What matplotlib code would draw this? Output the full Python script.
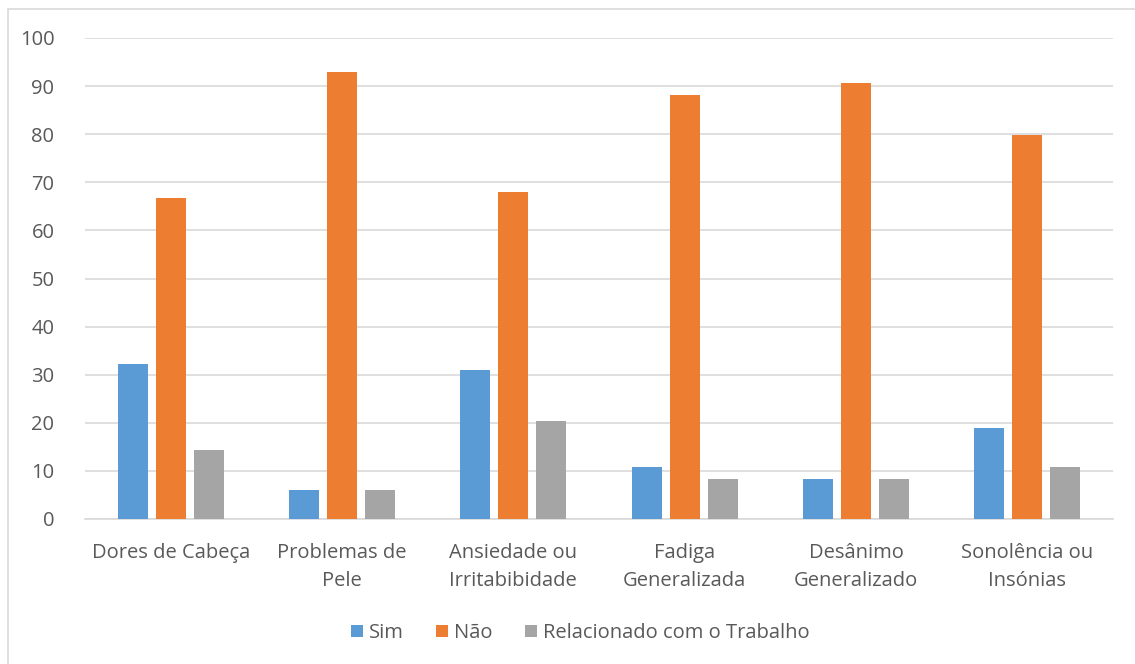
import numpy as np
import matplotlib.pyplot as plt
from matplotlib.patches import Rectangle

plt.rcParams['font.family'] = ['Open Sans', 'DejaVu Sans']

categorias = ['Dores de Cabeça', 'Problemas de\nPele', 'Ansiedade ou\nIrritabibidade',
              'Fadiga\nGeneralizada', 'Desânimo\nGeneralizado', 'Sonolência ou\nInsónias']
sim = [32.2, 6.0, 31.0, 10.8, 8.3, 19.0]
nao = [66.8, 93.0, 68.0, 88.2, 90.6, 79.8]
trabalho = [14.4, 6.0, 20.3, 8.4, 8.4, 10.8]
series = ['Sim', 'Não', 'Relacionado com o Trabalho']
cores = ['#5b9bd5', '#ed7d31', '#a5a5a5']

fig = plt.figure(figsize=(11.35, 6.64), dpi=100)
# moldura cinza do gráfico
fig.patches.append(Rectangle((8 / 1135, -0.01), 1.0, 1 - 9 / 664 + 0.01,
                             transform=fig.transFigure, fill=False,
                             edgecolor='#d9d9d9', linewidth=1.2))
ax = fig.add_axes([85 / 1135, 1 - 519 / 664, (1113 - 85) / 1135, (519 - 38) / 664])

x = np.arange(len(categorias))
w = 0.175
off = 0.222
for i, (vals, nome) in enumerate(zip([sim, nao, trabalho], series)):
    ax.bar(x + (i - 1) * off, vals, w, color=cores[i], label=nome, zorder=3)

ax.set_xlim(-0.5, len(categorias) - 0.5)
ax.set_ylim(0, 100)
ax.set_yticks(np.arange(0, 101, 10))
ax.set_xticks(x)
ax.set_xticklabels(categorias, fontsize=14.5, color='#595959', linespacing=1.55)
ax.tick_params(axis='y', labelsize=14.5, labelcolor='#595959', length=0, pad=22)
ax.tick_params(axis='x', length=0, pad=17)
ax.grid(axis='y', color='#d9d9d9', linewidth=1.2, zorder=0)
for s in ['top', 'right', 'left']:
    ax.spines[s].set_visible(False)
ax.spines['bottom'].set_color('#d9d9d9')
ax.spines['bottom'].set_linewidth(1.2)

fig.legend(loc='center', bbox_to_anchor=(580 / 1135, 1 - 633 / 664), ncol=3,
           frameon=False, fontsize=14.5, labelcolor='#595959',
           handlelength=0.6, handleheight=0.6, handletextpad=0.3, columnspacing=1.6)

fig.savefig('out.png', dpi=100)
